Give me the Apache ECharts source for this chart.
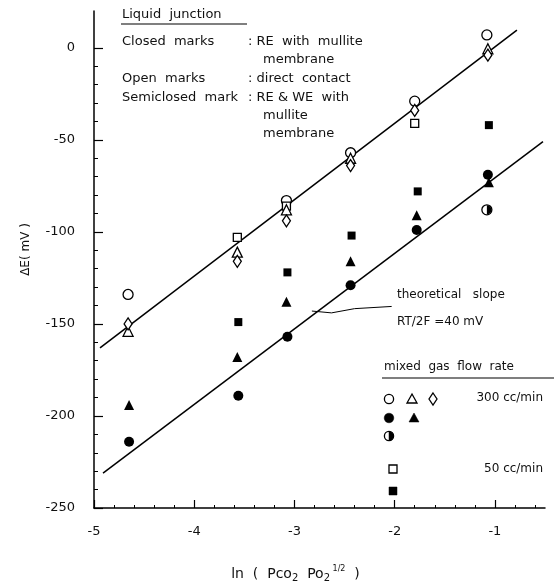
<!DOCTYPE html>
<html><head><meta charset="utf-8">
<script src="https://cdn.jsdelivr.net/npm/echarts@6/dist/echarts.min.js"></script>
<style>html,body{margin:0;padding:0;background:#fff}#c{width:556px;height:588px}</style>
</head><body><div id="c"></div>
<script>
// ---- data ----
const xTicks = [-5, -4, -3, -2, -1];
const yTicks = [0, -50, -100, -150, -200, -250];
// open marks (direct contact), 300 cc/min
const openCircle300 = [[-4.66, -134], [-3.08, -83], [-2.44, -57], [-1.80, -29], [-1.08, 7]];
const openTriangle300 = [[-4.66, -154], [-3.57, -111], [-3.08, -88], [-2.44, -60], [-1.07, -0.5]];
const openDiamond300 = [[-4.66, -150], [-3.57, -116], [-3.08, -94], [-2.44, -64], [-1.80, -34], [-1.07, -4]];
// open marks, 50 cc/min
const openSquare50 = [[-3.57, -103], [-3.08, -86], [-1.80, -41]];
// closed marks (RE with mullite membrane)
const filledCircle300 = [[-4.65, -214], [-3.56, -189], [-3.07, -157], [-2.44, -129], [-1.78, -99], [-1.07, -69]];
const filledTriangle300 = [[-4.65, -194], [-3.57, -168], [-3.08, -138], [-2.44, -116], [-1.78, -91], [-1.06, -73]];
const filledSquare50 = [[-3.56, -149], [-3.07, -122], [-2.43, -102], [-1.77, -78], [-1.06, -42]];
// semiclosed mark (RE & WE with mullite membrane)
const semiCircle300 = [[-1.08, -88]];
// theoretical slope lines RT/2F = 40 mV
const upperLine = [[-4.94, -163], [-0.78, 9.6]];
const lowerLine = [[-4.91, -231], [-0.52, -51]];
const leaderLine = [[-2.826, -143], [-2.63, -144], [-2.40, -141.7], [-2.03, -140.5]];

const xMinor = [];
for (let i = -24; i <= -3; i++) { if (i % 5 !== 0) xMinor.push(i / 5); }
const yMinor = [];
for (let v = -240; v <= -10; v += 10) { if (v % 50 !== 0) yMinor.push(v); }

const FONT = '"DejaVu Sans", sans-serif';
const chart = echarts.init(document.getElementById('c'), null, {renderer: 'canvas'});

function openStyle() { return {color: '#fff', borderColor: '#000', borderWidth: 1.3, opacity: 1}; }
function filledStyle() { return {color: '#000', borderColor: '#000', borderWidth: 0, opacity: 1}; }
function scatter(data, symbol, size, style, extra) {
  return Object.assign({type: 'scatter', data: data, symbol: symbol, symbolSize: size,
    itemStyle: style, xAxisIndex: 0, yAxisIndex: 0, silent: true, z: 5}, extra || {});
}
function line(data, width) {
  return {type: 'line', data: data, showSymbol: false, symbol: 'none', xAxisIndex: 0, yAxisIndex: 0,
    lineStyle: {color: '#000', width: width}, silent: true, z: 3};
}
function txt(x, y, s, size, align) {
  return {type: 'text', x: x, y: y, silent: true,
    style: {text: s, fill: '#111', font: (size || 13) + 'px ' + FONT, fontSize: size || 13, fontFamily: FONT,
      align: align || 'left', verticalAlign: 'middle', textAlign: align || 'left', textVerticalAlign: 'middle'}};
}
function hline(x1, x2, y) {
  return {type: 'line', shape: {x1: x1, y1: y, x2: x2, y2: y}, style: {stroke: '#000', lineWidth: 1.2}, silent: true};
}
const gOpen = {fill: '#fff', stroke: '#000', lineWidth: 1.3};
const gFill = {fill: '#000', stroke: '#000', lineWidth: 0.5};

const baseX = {type: 'value', min: -5, max: -0.5, interval: 1, gridIndex: 0, position: 'bottom', splitLine: {show: false}};
const baseY = {type: 'value', min: -250, max: 20, interval: 50, gridIndex: 0, position: 'left', splitLine: {show: false}};

chart.setOption({
  animation: false,
  backgroundColor: '#fff',
  textStyle: {fontFamily: FONT},
  grid: {left: 94, right: 11, top: 11, bottom: 72, containLabel: false},
  xAxis: [
    Object.assign({}, baseX, {
      axisLine: {show: true, onZero: false, lineStyle: {color: '#000', width: 1.5}},
      axisTick: {show: true, inside: true, length: 8, customValues: xTicks, lineStyle: {color: '#000', width: 1.2}},
      axisLabel: {show: true, customValues: xTicks, color: '#111', fontSize: 13, fontFamily: FONT, margin: 17,
        formatter: v => xTicks.indexOf(v) >= 0 ? String(v) : ''},
      minorTick: {show: false},
      name: '{a|ln  (  Pco}{s|2}{a|  Po}{s|2}{p| 1/2}{a|  )}',
      nameLocation: 'middle', nameGap: 57,
      nameTextStyle: {color: '#111', fontFamily: FONT, padding: [0, 48, 0, 0], rich: {
        a: {fontSize: 14, lineHeight: 18, fontFamily: FONT, color: '#111', verticalAlign: 'middle'},
        s: {fontSize: 10, lineHeight: 10, fontFamily: FONT, color: '#111', verticalAlign: 'bottom'},
        p: {fontSize: 8, lineHeight: 10, fontFamily: FONT, color: '#111', verticalAlign: 'top'}
      }}
    }),
    Object.assign({}, baseX, {
      axisLine: {show: false, onZero: false},
      axisTick: {show: true, inside: true, length: 3, customValues: xMinor, lineStyle: {color: '#000', width: 1}},
      axisLabel: {show: false}, minorTick: {show: false}
    })
  ],
  yAxis: [
    Object.assign({}, baseY, {
      axisLine: {show: true, onZero: false, lineStyle: {color: '#000', width: 1.5}},
      axisTick: {show: true, inside: true, length: 9, customValues: yTicks, lineStyle: {color: '#000', width: 1.2}},
      axisLabel: {show: true, customValues: yTicks, color: '#111', fontSize: 13, fontFamily: FONT, margin: 19,
        formatter: v => yTicks.indexOf(v) >= 0 ? String(v) : ''},
      minorTick: {show: false},
      name: 'ΔE( mV )', nameLocation: 'middle', nameGap: 62, nameRotate: 90,
      nameTextStyle: {color: '#111', fontSize: 12, fontFamily: FONT, padding: [0, 0, 0, 20]}
    }),
    Object.assign({}, baseY, {
      axisLine: {show: false, onZero: false},
      axisTick: {show: true, inside: true, length: 4, customValues: yMinor, lineStyle: {color: '#000', width: 1}},
      axisLabel: {show: false}, minorTick: {show: false}
    })
  ],
  series: [
    line(upperLine, 1.5),
    line(lowerLine, 1.5),
    line(leaderLine, 1),
    scatter(openCircle300, 'circle', 10, openStyle()),
    scatter(openSquare50, 'rect', 8, openStyle()),
    scatter(openTriangle300, 'triangle', 10, openStyle()),
    scatter(openDiamond300, 'diamond', [8, 12], openStyle()),
    scatter(filledSquare50, 'rect', 8, filledStyle()),
    scatter(filledTriangle300, 'triangle', 10, filledStyle()),
    scatter(filledCircle300, 'circle', 10, filledStyle()),
    scatter(semiCircle300, 'circle', 10, openStyle()),
    scatter(semiCircle300, 'path://M0,0 A10,10 0 0 1 0,20 Z', [4.6, 9.2], filledStyle(), {symbolOffset: [2.3, 0], z: 6})
  ],
  graphic: [
    txt(122, 15, 'Liquid  junction', 13),
    hline(121, 247, 24),
    txt(122, 42, 'Closed  marks', 13),
    txt(248, 42, ': RE  with  mullite', 13),
    txt(263, 60, 'membrane', 13),
    txt(122, 79, 'Open  marks', 13),
    txt(248, 79, ': direct  contact', 13),
    txt(122, 98, 'Semiclosed  mark', 13),
    txt(248, 98, ': RE & WE  with', 13),
    txt(263, 116, 'mullite', 13),
    txt(263, 134, 'membrane', 13),
    txt(397, 295, 'theoretical   slope', 12),
    txt(397, 322, 'RT/2F =40 mV', 12),
    txt(384, 367, 'mixed  gas  flow  rate', 12),
    hline(382, 554, 378),
    {type: 'circle', shape: {cx: 389, cy: 399, r: 4.6}, style: gOpen, silent: true},
    {type: 'polygon', shape: {points: [[412, 394], [417, 403], [407, 403]]}, style: gOpen, silent: true},
    {type: 'polygon', shape: {points: [[433, 393], [437, 399], [433, 405], [429, 399]]}, style: gOpen, silent: true},
    txt(543, 398, '300 cc/min', 12, 'right'),
    {type: 'circle', shape: {cx: 389, cy: 418, r: 4.8}, style: gFill, silent: true},
    {type: 'polygon', shape: {points: [[414, 413], [419, 422], [409, 422]]}, style: gFill, silent: true},
    {type: 'circle', shape: {cx: 389, cy: 436, r: 4.6}, style: gOpen, silent: true},
    {type: 'sector', shape: {cx: 389, cy: 436, r0: 0, r: 4.6, startAngle: -Math.PI / 2, endAngle: Math.PI / 2}, style: gFill, silent: true},
    {type: 'rect', shape: {x: 389, y: 465, width: 8, height: 8}, style: gOpen, silent: true},
    txt(543, 469, '50 cc/min', 12, 'right'),
    {type: 'rect', shape: {x: 389, y: 487, width: 8, height: 8}, style: gFill, silent: true}
  ]
});
</script>
</body></html>
